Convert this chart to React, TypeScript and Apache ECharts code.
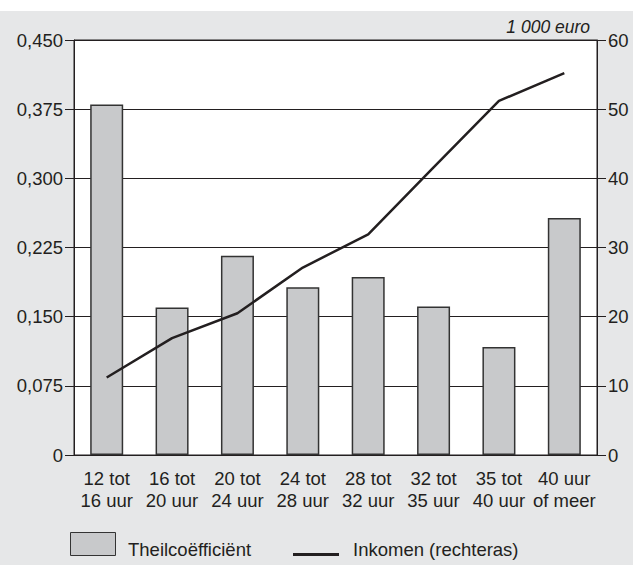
import React, { useEffect, useRef } from "react";
import * as echarts from "echarts";

const categories = [
  "12 tot\n16 uur",
  "16 tot\n20 uur",
  "20 tot\n24 uur",
  "24 tot\n28 uur",
  "28 tot\n32 uur",
  "32 tot\n35 uur",
  "35 tot\n40 uur",
  "40 uur\nof meer",
];
const theilValues = [0.38, 0.16, 0.216, 0.182, 0.193, 0.161, 0.117, 0.257];
const incomeValues = [11.2, 16.9, 20.5, 27.1, 31.9, 41.6, 51.2, 55.2];
const seriesNames = ["Theilcoëfficiënt", "Inkomen (rechteras)"];
const rightUnit = "1 000 euro";

const FONT = "'Liberation Sans', Arial, Helvetica, sans-serif";
const TXT = "#231f20";
const FS = 18.5;

export default function App() {
  const ref = useRef<HTMLDivElement>(null);
  useEffect(() => {
    if (!ref.current) return;
    const chart = echarts.init(ref.current, null, { renderer: "svg" });
    chart.setOption({
      animation: false,
      backgroundColor: "#e6e7e8",
      textStyle: { fontFamily: FONT, color: TXT },
      grid: {
        left: 74,
        right: 36,
        top: 40,
        bottom: 110,
        show: true,
        backgroundColor: "#ffffff",
        borderColor: "#231f20",
        borderWidth: 1,
      },
      xAxis: {
        type: "category",
        data: categories,
        axisLine: { lineStyle: { color: "#231f20", width: 1 } },
        axisTick: { show: false },
        axisLabel: {
          color: TXT,
          fontFamily: FONT,
          fontSize: FS,
          lineHeight: 22,
          margin: 12,
          interval: 0,
        },
      },
      yAxis: [
        {
          type: "value",
          min: 0,
          max: 0.45,
          interval: 0.075,
          axisLine: { show: true, lineStyle: { color: "#231f20", width: 1 } },
          axisTick: { show: true, inside: false, length: 9, lineStyle: { color: "#231f20" } },
          axisLabel: {
            color: TXT,
            fontFamily: FONT,
            fontSize: FS,
            margin: 11,
            formatter: (v: number) => (v === 0 ? "0" : v.toFixed(3).replace(".", ",")),
          },
          splitLine: { show: true, lineStyle: { color: "#231f20", width: 1 } },
        },
        {
          type: "value",
          min: 0,
          max: 60,
          interval: 10,
          position: "right",
          axisLine: { show: true, lineStyle: { color: "#231f20", width: 1 } },
          axisTick: { show: true, inside: false, length: 9, lineStyle: { color: "#231f20" } },
          axisLabel: { color: TXT, fontFamily: FONT, fontSize: FS, margin: 11 },
          splitLine: { show: false },
        },
      ],
      series: [
        {
          name: seriesNames[0],
          type: "bar",
          data: theilValues,
          barWidth: 33,
          itemStyle: { color: "#c8c9cb", borderColor: "#333333", borderWidth: 1.5 },
          z: 2,
        },
        {
          name: seriesNames[1],
          type: "line",
          yAxisIndex: 1,
          data: incomeValues,
          symbol: "none",
          lineStyle: { color: "#231f20", width: 2.5 },
          z: 3,
        },
      ],
      graphic: [
        { type: "rect", left: 0, top: 0, shape: { width: 633, height: 11 }, style: { fill: "#ffffff" }, z: 0 },
        {
          type: "text",
          right: 43,
          top: 18,
          style: { text: rightUnit, font: `italic 17.5px ${FONT}`, fill: TXT },
        },
        {
          type: "rect",
          left: 70,
          top: 532,
          shape: { width: 45, height: 23 },
          style: { fill: "#c8c9cb", stroke: "#333333", lineWidth: 1 },
        },
        {
          type: "text",
          left: 128,
          top: 540,
          style: { text: seriesNames[0], font: `${FS}px ${FONT}`, fill: TXT },
        },
        {
          type: "line",
          shape: { x1: 293, y1: 554.5, x2: 339, y2: 554.5 },
          style: { stroke: "#231f20", lineWidth: 3 },
        },
        {
          type: "text",
          left: 353,
          top: 540,
          style: { text: seriesNames[1], font: `${FS}px ${FONT}`, fill: TXT },
        },
      ],
    });
    return () => chart.dispose();
  }, []);
  return (
    <div
      ref={ref}
      style={{ position: "fixed", left: 0, top: 0, width: 633, height: 565 }}
    />
  );
}
